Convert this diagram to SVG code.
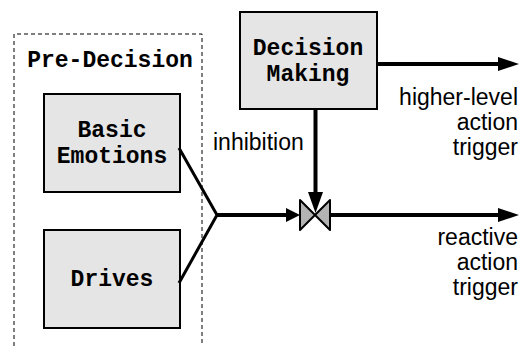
<svg xmlns="http://www.w3.org/2000/svg" width="524" height="346" viewBox="0 0 524 346">
  <style>
    .box { fill: #e5e5e5; stroke: #000; stroke-width: 2; }
    .mono { font-family: "Liberation Mono", "Courier New", monospace; font-weight: bold; font-size: 23px; fill: #000; text-anchor: middle; }
    .sans { font-family: "Liberation Sans", Arial, sans-serif; font-size: 23px; fill: #000; }
    .wire { fill: none; stroke: #000; stroke-width: 4; }
    .thin { fill: none; stroke: #000; stroke-width: 3; stroke-linejoin: miter; }
    .head { fill: #000; }
  </style>
  <rect width="524" height="346" fill="#fff"/>

  <!-- grouping frame (open at the bottom) -->
  <g id="pre-decision">
    <path d="M14,346 V34 H202 V346" fill="none" stroke="#000" stroke-width="1" stroke-dasharray="4,3"/>
    <text class="mono" x="110" y="67">Pre-Decision</text>
  </g>

  <g id="basic-emotions">
    <rect class="box" x="44" y="94" width="136" height="98"/>
    <text class="mono" x="112" y="137">Basic</text>
    <text class="mono" x="112" y="163">Emotions</text>
  </g>

  <g id="drives">
    <rect class="box" x="44" y="230" width="136" height="98"/>
    <text class="mono" x="112" y="286">Drives</text>
  </g>

  <g id="decision-making">
    <rect class="box" x="240" y="12" width="137" height="97"/>
    <text class="mono" x="308" y="55">Decision</text>
    <text class="mono" x="308" y="81">Making</text>
  </g>

  <g id="valve">
    <polygon points="300,200 315,215 300,230" fill="#b3b3b3" stroke="#000" stroke-width="2" stroke-linejoin="round"/>
    <polygon points="330,200 315,215 330,230" fill="#b3b3b3" stroke="#000" stroke-width="2" stroke-linejoin="round"/>
  </g>

  <g id="connectors">
    <!-- merge of the two pre-decision outputs -->
    <polyline class="thin" points="179,148 217,215 179,283"/>
    <line class="wire" x1="217" y1="215" x2="288" y2="215"/>
    <polygon class="head" points="286,208 300,215 286,222"/>
    <!-- inhibition -->
    <line class="wire" x1="315.5" y1="109" x2="315.5" y2="194"/>
    <polygon class="head" points="308,192 323,192 315.5,213"/>
    <!-- higher-level output -->
    <line class="wire" x1="377" y1="64" x2="500" y2="64"/>
    <polygon class="head" points="498,57 519,64 498,71"/>
    <!-- reactive output -->
    <line class="wire" x1="330" y1="215" x2="500" y2="215"/>
    <polygon class="head" points="498,208 519,215 498,222"/>
  </g>

  <g id="labels">
    <text class="sans" x="213" y="150">inhibition</text>
    <text class="sans" x="518" y="105" text-anchor="end">higher-level</text>
    <text class="sans" x="518" y="130" text-anchor="end">action</text>
    <text class="sans" x="518" y="155" text-anchor="end">trigger</text>
    <text class="sans" x="518" y="245" text-anchor="end">reactive</text>
    <text class="sans" x="518" y="270" text-anchor="end">action</text>
    <text class="sans" x="518" y="295" text-anchor="end">trigger</text>
  </g>
</svg>
